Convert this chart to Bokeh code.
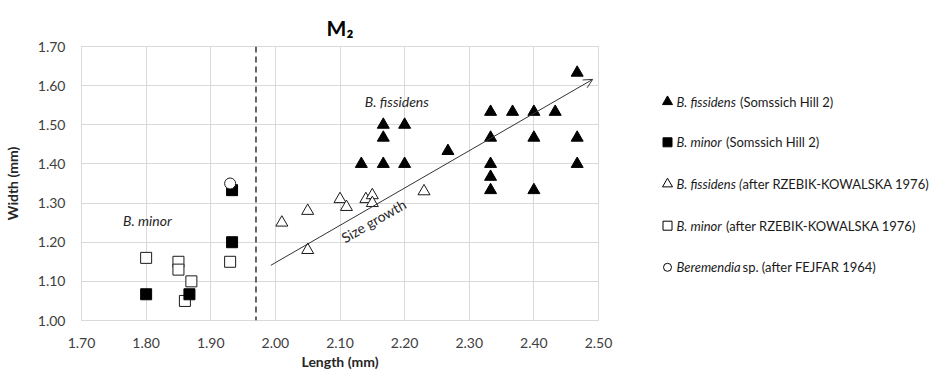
from bokeh.plotting import figure
from bokeh.models import (Label, Span, Arrow, OpenHead, FixedTicker, PrintfTickFormatter,
                          Range1d)
from bokeh.layouts import row, column
from bokeh.core.properties import value
from bokeh.embed import file_html
from bokeh.resources import INLINE
import math

# ---------------- data ----------------
fis_som_x = [2.133, 2.167, 2.167, 2.167, 2.200, 2.200, 2.267, 2.333, 2.333, 2.333, 2.333,
             2.333, 2.367, 2.400, 2.400, 2.400, 2.433, 2.467, 2.467, 2.467]
fis_som_y = [1.400, 1.400, 1.467, 1.500, 1.400, 1.500, 1.433, 1.333, 1.367, 1.400, 1.467,
             1.533, 1.533, 1.333, 1.467, 1.533, 1.533, 1.400, 1.467, 1.633]

min_som_x = [1.800, 1.867, 1.933, 1.933]
min_som_y = [1.067, 1.067, 1.200, 1.333]

fis_rk_x = [2.01, 2.05, 2.05, 2.10, 2.11, 2.14, 2.15, 2.15, 2.23]
fis_rk_y = [1.25, 1.28, 1.18, 1.31, 1.29, 1.31, 1.32, 1.30, 1.33]

min_rk_x = [1.80, 1.85, 1.85, 1.86, 1.87, 1.93]
min_rk_y = [1.16, 1.15, 1.13, 1.05, 1.10, 1.15]

ber_x = [1.93]
ber_y = [1.35]

x_ticks = [1.70, 1.80, 1.90, 2.00, 2.10, 2.20, 2.30, 2.40, 2.50]
y_ticks = [1.00, 1.10, 1.20, 1.30, 1.40, 1.50, 1.60, 1.70]

boundary_x = 1.97
arrow_start = (1.993, 1.141)
arrow_end = (2.491, 1.616)

title_text = "M\u2082"
legend_italic = ["B. fissidens", "B. minor", "B. fissidens (", "B. minor", "Beremendia"]
legend_regular = ["(Somssich Hill 2)", "(Somssich Hill 2)", "after RZEBIK-KOWALSKA 1976)",
                  "(after RZEBIK-KOWALSKA 1976)", "sp. (after FEJFAR 1964)"]
legend_markers = ["triangle", "square", "triangle", "square", "circle"]
legend_fills = ["black", "black", "white", "white", "white"]
legend_sizes = [10, 9, 10, 9, 8]

# ---------------- layout sizes ----------------
FONT = "Lato"
FW, FH = 517, 274
LEFT, RIGHT, TOP, BOTTOM = 77, 20, 46, 50
MAIN_W = LEFT + FW + RIGHT
TOTAL_H = TOP + FH + BOTTOM
LEG_W = 928 - MAIN_W

# ---------------- main plot ----------------
p = figure(frame_width=FW, frame_height=FH, output_backend="svg", toolbar_location=None,
           x_range=Range1d(1.70, 2.50), y_range=Range1d(1.00, 1.70),
           min_border_left=LEFT, min_border_right=RIGHT, min_border_top=TOP,
           min_border_bottom=BOTTOM, tools="", title=title_text)
p.title.align = "center"
p.title.text_font = FONT
p.title.text_font_size = "21px"
p.title.text_font_style = "bold"
p.title.text_color = "black"
p.title.standoff = 14
p.outline_line_color = "#d9d9d9"
p.background_fill_color = "white"
p.border_fill_color = "white"

for ax, ticks in ((p.xaxis[0], x_ticks), (p.yaxis[0], y_ticks)):
    ax.ticker = FixedTicker(ticks=ticks)
    ax.formatter = PrintfTickFormatter(format="%.2f")
    ax.major_tick_line_color = None
    ax.minor_tick_line_color = None
    ax.axis_line_color = "#d9d9d9"
    ax.major_label_text_font = FONT
    ax.major_label_text_font_size = "14px"
    ax.major_label_text_color = "#404040"
    ax.axis_label_text_font = FONT
    ax.axis_label_text_font_size = "14px"
    ax.axis_label_text_font_style = "bold"
    ax.axis_label_text_color = "#262626"

p.xaxis.axis_label = "Length (mm)"
p.yaxis.axis_label = "Width (mm)"
p.xaxis.major_label_standoff = 11
p.xaxis.axis_label_standoff = 2
p.yaxis.major_label_standoff = 10
p.yaxis.axis_label_standoff = 14

p.xgrid.ticker = FixedTicker(ticks=x_ticks)
p.ygrid.ticker = FixedTicker(ticks=y_ticks)
p.grid.grid_line_color = "#d9d9d9"
p.grid.grid_line_width = 1

p.add_layout(Span(location=boundary_x, dimension="height", line_color="#333333",
                  line_width=1.5, line_dash="6 4"))

p.add_layout(Arrow(end=OpenHead(size=9, line_width=1, line_color="#333333"),
                   x_start=arrow_start[0], y_start=arrow_start[1],
                   x_end=arrow_end[0], y_end=arrow_end[1],
                   line_width=1, line_color="#333333"))

p.scatter(fis_rk_x, fis_rk_y, marker="triangle", size=12, fill_color="white",
          line_color="#1a1a1a", line_width=1)
p.scatter(min_rk_x, min_rk_y, marker="square", size=11, fill_color="white",
          line_color="#1a1a1a", line_width=1)
p.scatter(fis_som_x, fis_som_y, marker="triangle", size=12, fill_color="black",
          line_color="black", line_width=1)
p.scatter(min_som_x, min_som_y, marker="square", size=11, fill_color="black",
          line_color="black", line_width=1)
p.scatter(ber_x, ber_y, marker="circle", size=11, fill_color="white",
          line_color="#1a1a1a", line_width=1)

p.add_layout(Label(x=2.188, y=1.559, text="B. fissidens", text_font=FONT,
                   text_font_size="14px", text_font_style="italic", text_align="center",
                   text_baseline="middle", text_color="#262626"))
p.add_layout(Label(x=1.802, y=1.256, text="B. minor", text_font=FONT,
                   text_font_size="14px", text_font_style="italic", text_align="center",
                   text_baseline="middle", text_color="#262626"))
p.add_layout(Label(x=2.152, y=1.255, text="Size growth", text_font=FONT,
                   text_font_size="14px", angle=math.radians(30), text_align="center",
                   text_baseline="middle", text_color="#262626"))


def blank(w, h):
    f = figure(frame_width=w, frame_height=h, output_backend="svg", toolbar_location=None,
               tools="", title=None, x_range=Range1d(0, w), y_range=Range1d(0, h),
               x_axis_type=None, y_axis_type=None, min_border=0,
               min_border_left=0, min_border_right=0, min_border_top=0,
               min_border_bottom=0)
    f.outline_line_color = None
    f.grid.visible = False
    f.background_fill_color = "white"
    f.border_fill_color = "white"
    return f


# ---------------- legend panel (pixel coordinates, y upward) ----------------
lg = blank(LEG_W, TOTAL_H)
rows_y = [268.8, 228.2, 186.5, 144.8, 103.2]
reg_x = [121.5, 107.5, 124, 107.5, 124]
for i, ry in enumerate(rows_y):
    lg.scatter(x=[49], y=[ry], marker=legend_markers[i], size=legend_sizes[i],
               fill_color=legend_fills[i], line_color="black", line_width=1)
lg.text(x=[58] * 5, y=rows_y, text=legend_italic, text_font=value(FONT),
        text_font_size=value("13px"), text_font_style=value("italic"),
        text_align=value("left"), text_baseline=value("middle"), text_color="#1a1a1a")
lg.text(x=reg_x, y=rows_y, text=legend_regular, text_font=value(FONT),
        text_font_size=value("13px"), text_font_style=value("normal"),
        text_align=value("left"), text_baseline=value("middle"), text_color="#1a1a1a")

layout = row(column(p), lg)
open("out.html", "w").write(file_html(layout, INLINE))
